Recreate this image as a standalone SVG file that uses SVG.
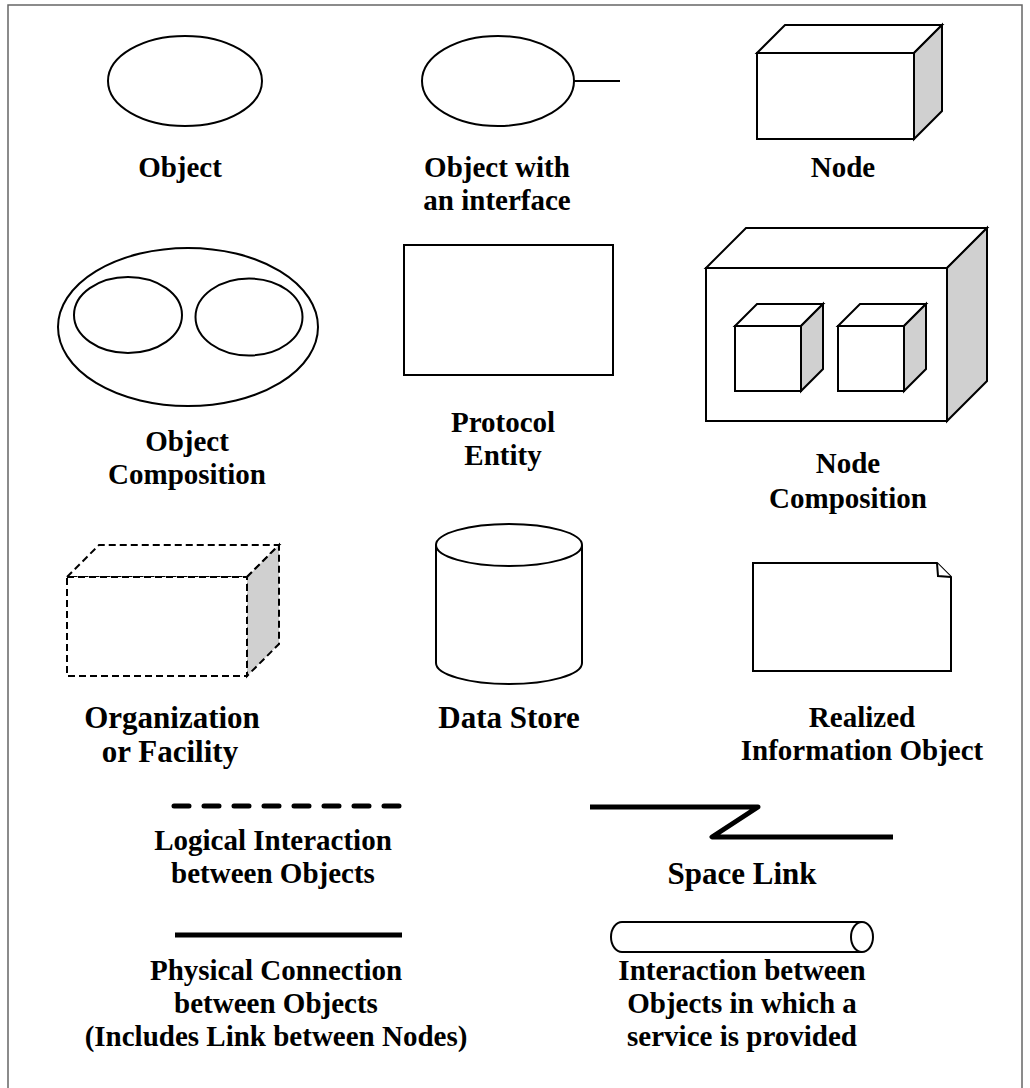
<svg xmlns="http://www.w3.org/2000/svg" width="1030" height="1088" viewBox="0 0 1030 1088">
<style>
.s{fill:#fff;stroke:#000;stroke-width:2}
.g{fill:#d0d0d0;stroke:#000;stroke-width:2}
.d{stroke-dasharray:7 4}
.t{font-family:"Liberation Serif","Times New Roman",serif;font-weight:bold;font-size:29px;text-anchor:middle;fill:#000}
.b{font-size:31px}
.ln{fill:none;stroke:#000;stroke-width:5}
</style>
<rect x="8" y="5" width="1014" height="1100" fill="#fff" stroke="#666" stroke-width="1.5"/>
<g id="object">
<ellipse class="s" cx="185" cy="81" rx="77" ry="45"/>
<text class="t" x="180" y="177">Object</text>
</g>
<g id="object-interface">
<ellipse class="s" cx="498" cy="81" rx="76" ry="45"/>
<line x1="574" y1="81" x2="620" y2="81" stroke="#000" stroke-width="2"/>
<text class="t" x="497" y="177">Object with</text>
<text class="t" x="497" y="210">an interface</text>
</g>
<g id="node">
<polygon class="s" points="757,53 785,25 942,25 914,53"/>
<polygon class="g" points="914,53 942,25 942,111 914,139"/>
<rect class="s" x="757" y="53" width="157" height="86"/>
<text class="t" x="843" y="177">Node</text>
</g>
<g id="object-composition">
<ellipse class="s" cx="188" cy="327" rx="130" ry="79"/>
<ellipse class="s" cx="128" cy="315" rx="54" ry="38"/>
<ellipse class="s" cx="249" cy="317" rx="53.5" ry="38.5"/>
<text class="t" x="187" y="451">Object</text>
<text class="t" x="187" y="484">Composition</text>
</g>
<g id="protocol-entity">
<rect class="s" x="404" y="245" width="209" height="130"/>
<text class="t" x="503" y="432">Protocol</text>
<text class="t" x="503" y="465">Entity</text>
</g>
<g id="node-composition">
<polygon class="s" points="706,268 746,228 987,228 947,268"/>
<polygon class="g" points="947,268 987,228 987,381 947,421"/>
<rect class="s" x="706" y="268" width="241" height="153"/>
<polygon class="s" points="735,326 757,304 823,304 801,326"/>
<polygon class="g" points="801,326 823,304 823,369 801,391"/>
<rect class="s" x="735" y="326" width="66" height="65"/>
<polygon class="s" points="838,326 860,304 926,304 904,326"/>
<polygon class="g" points="904,326 926,304 926,369 904,391"/>
<rect class="s" x="838" y="326" width="66" height="65"/>
<text class="t" x="848" y="473">Node</text>
<text class="t" x="848" y="508">Composition</text>
</g>
<g id="organization">
<polygon class="s d" points="67,577 99,545 279,545 247,577"/>
<polygon class="g d" points="247,577 279,545 279,644 247,676"/>
<rect class="s d" x="67" y="577" width="180" height="99"/>
<text class="t b" x="172" y="728">Organization</text>
<text class="t b" x="170" y="762">or Facility</text>
</g>
<g id="data-store">
<path class="s" d="M436,545 L436,663 A73,21 0 0 0 582,663 L582,545"/>
<ellipse class="s" cx="509" cy="545" rx="73" ry="21"/>
<text class="t b" x="509" y="728">Data Store</text>
</g>
<g id="realized-info">
<path class="s" d="M753,563 L937,563 L951,577 L951,671 L753,671 Z"/>
<path class="s" d="M937,563 L938,576 L951,577"/>
<text class="t" x="862" y="727">Realized</text>
<text class="t" x="862" y="760">Information Object</text>
</g>
<g id="connectors">
<line class="ln" x1="174" y1="806" x2="400" y2="806" stroke-dasharray="15 15" stroke-linecap="round"/>
<polyline class="ln" points="590,807 758,807 712,837 893,837" stroke-linejoin="round"/>
<line class="ln" x1="175" y1="935" x2="402" y2="935"/>
<path class="s" d="M862,922 L622,922 A11,15 0 0 0 622,952 L862,952"/>
<ellipse class="s" cx="862" cy="937" rx="11" ry="15"/>
</g>
<g id="labels">
<text class="t" x="273" y="850">Logical Interaction</text>
<text class="t" x="273" y="883">between Objects</text>
<text class="t b" x="742" y="884">Space Link</text>
<text class="t" x="276" y="980">Physical Connection</text>
<text class="t" x="276" y="1013">between Objects</text>
<text class="t" x="276" y="1046">(Includes Link between Nodes)</text>
<text class="t" x="742" y="980">Interaction between</text>
<text class="t" x="742" y="1013">Objects in which a</text>
<text class="t" x="742" y="1046">service is provided</text>
</g>
</svg>
